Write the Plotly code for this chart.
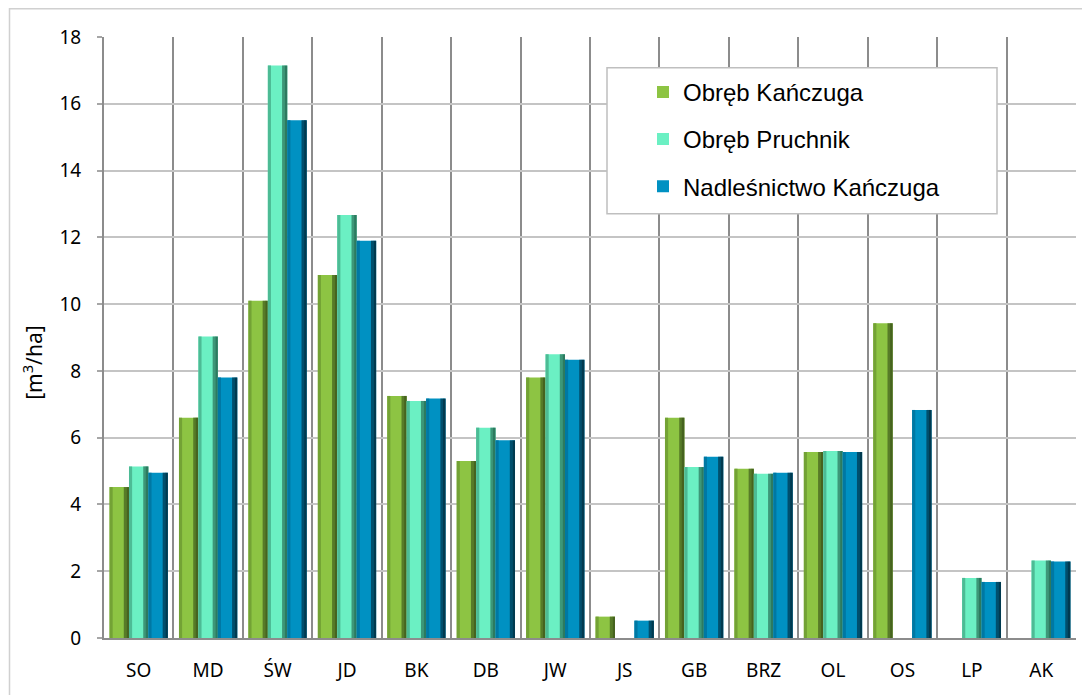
import plotly.graph_objects as go

# categories (gatunki) and values [m3/ha]
categories = ["SO", "MD", "ŚW", "JD", "BK", "DB", "JW", "JS", "GB", "BRZ", "OL", "OS", "LP", "AK"]
obreb_kanczuga = [4.52, 6.6, 10.1, 10.87, 7.25, 5.3, 7.8, 0.64, 6.6, 5.07, 5.57, 9.43, None, None]
obreb_pruchnik = [5.14, 9.03, 17.15, 12.67, 7.1, 6.3, 8.5, None, 5.12, 4.92, 5.6, None, 1.8, 2.32]
nadlesnictwo = [4.95, 7.8, 15.51, 11.9, 7.17, 5.92, 8.33, 0.52, 5.43, 4.95, 5.57, 6.83, 1.68, 2.29]

y_ticks = list(range(0, 19, 2))

# name, values, (body colour, left bevel, right bevel)
series = [
    ("Obręb Kańczuga", obreb_kanczuga, ("#8DC443", "#73A235", "#46631F")),
    ("Obręb Pruchnik", obreb_pruchnik, ("#6BF0C3", "#4DBB95", "#2D7A5F")),
    ("Nadleśnictwo Kańczuga", nadlesnictwo, ("#0091C2", "#0078A3", "#003A50")),
]

# the page body has an 8px margin, so the figure is shifted by 8px
W = 972.0   # plot width px
H = 605.0   # plot height px
bar_w = 0.28

fig = go.Figure()
for i, (name, vals, (body, left, right)) in enumerate(series):
    off = -0.42 + i * bar_w
    fig.add_trace(go.Bar(
        x=categories, y=vals, name=name, legendgroup=name,
        offset=off, width=bar_w,
        marker=dict(color=body, line=dict(width=0)),
    ))
    # bevel strips on both sides of each bar
    fig.add_trace(go.Bar(
        x=categories, y=vals, legendgroup=name, showlegend=False, hoverinfo="skip",
        offset=off, width=0.045, marker=dict(color=left, line=dict(width=0)),
    ))
    fig.add_trace(go.Bar(
        x=categories, y=vals, legendgroup=name, showlegend=False, hoverinfo="skip",
        offset=off + bar_w - 0.075, width=0.04, marker=dict(color=right, opacity=0.75, line=dict(width=0)),
    ))
    fig.add_trace(go.Bar(
        x=categories, y=vals, legendgroup=name, showlegend=False, hoverinfo="skip",
        offset=off + bar_w - 0.038, width=0.038, marker=dict(color=right, line=dict(width=0)),
    ))


# page pixel -> paper coordinates
def px_x(p):
    return (p - 104) / W


def px_y(p):
    return (642 - p) / H


fig.update_layout(
    width=1082, height=687,
    margin=dict(l=96, r=14, t=29, b=53),
    paper_bgcolor="white", plot_bgcolor="white",
    barmode="overlay",
    font=dict(family="Noto Sans", color="#000000"),
    showlegend=True,
    legend=dict(
        x=px_x(643), y=px_y(70), xanchor="left", yanchor="top",
        bgcolor="rgba(0,0,0,0)", borderwidth=0,
        traceorder="grouped", tracegroupgap=13,
        font=dict(family="Liberation Sans", size=24, color="#000000"),
    ),
    xaxis=dict(
        type="category", tickson="boundaries",
        showgrid=True, gridcolor="#8C8C8C", gridwidth=2,
        showline=True, linecolor="#8C8C8C", linewidth=2,
        ticks="", ticklabelstandoff=14,
        tickfont=dict(family="Noto Sans", size=19, color="#000000"),
        range=[-0.5, 13.5],
    ),
    yaxis=dict(
        range=[0, 18], tickvals=y_ticks,
        showgrid=True, gridcolor="#C4C4C4", gridwidth=1.5,
        zeroline=False,
        showline=True, linecolor="#8C8C8C", linewidth=2,
        ticks="outside", ticklen=5, tickcolor="#A6A6A6", tickwidth=1.5,
        ticklabelstandoff=12,
        tickfont=dict(family="Noto Sans", size=19, color="#000000"),
    ),
    annotations=[dict(
        text="[m<sup>3</sup>/ha]", textangle=-90, showarrow=False,
        xref="paper", yref="paper", x=px_x(33), y=px_y(365),
        xanchor="center", yanchor="middle",
        font=dict(family="Noto Sans", size=21, color="#000000"),
    )],
    shapes=[
        # legend box
        dict(type="rect", xref="paper", yref="paper", layer="above",
             x0=px_x(607), x1=px_x(997), y0=px_y(215), y1=px_y(68),
             fillcolor="white", line=dict(color="#BFBFBF", width=1.5)),
        # outer chart border
        dict(type="rect", xref="paper", yref="paper", layer="below",
             x0=px_x(9.5), x1=px_x(1100), y0=px_y(705), y1=px_y(8.5),
             line=dict(color="#D0D0D0", width=1.5)),
    ],
)

fig.write_html("out.html")
